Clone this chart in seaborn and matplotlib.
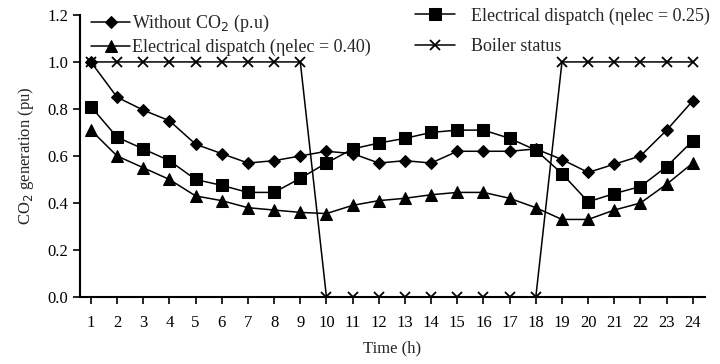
import numpy as np
import pandas as pd
import matplotlib
matplotlib.use("Agg")
import matplotlib.pyplot as plt
import seaborn as sns

hours = list(range(1, 25))
without_co2 = [1.0, 0.85, 0.795, 0.75, 0.65, 0.61, 0.57, 0.58, 0.60, 0.62, 0.61, 0.57,
               0.58, 0.57, 0.62, 0.62, 0.62, 0.63, 0.585, 0.53, 0.565, 0.60, 0.71, 0.835]
elec_025 = [0.81, 0.68, 0.63, 0.58, 0.50, 0.475, 0.445, 0.445, 0.505, 0.57, 0.63, 0.655,
            0.675, 0.70, 0.71, 0.71, 0.675, 0.625, 0.525, 0.405, 0.44, 0.47, 0.555, 0.665]
elec_040 = [0.71, 0.60, 0.55, 0.50, 0.43, 0.41, 0.38, 0.37, 0.36, 0.355, 0.39, 0.41,
            0.42, 0.435, 0.445, 0.445, 0.42, 0.38, 0.33, 0.33, 0.37, 0.40, 0.48, 0.57]
boiler = [1] * 9 + [0] * 9 + [1] * 6

sns.set_style("ticks")
plt.rcParams['font.family'] = ['Liberation Serif', 'DejaVu Serif']

fig, ax = plt.subplots(figsize=(7.2, 3.64), dpi=100)
fig.subplots_adjust(left=0.111, right=0.979, bottom=0.184, top=0.959)

kw = dict(color="black", linewidth=1.1, markeredgecolor="black", ax=ax)
sns.lineplot(x=hours, y=without_co2, marker="D", markersize=6, label="Without CO$_2$ (p.u)", **kw)
sns.lineplot(x=hours, y=elec_040, marker="^", markersize=8, label="Electrical dispatch (ηelec = 0.40)", **kw)
sns.lineplot(x=hours, y=elec_025, marker="s", markersize=8, label="Electrical dispatch (ηelec = 0.25)", **kw)
sns.lineplot(x=hours, y=boiler, marker="x", markersize=7, markeredgewidth=1.3, label="Boiler status", **kw)

handles, labels = ax.get_legend_handles_labels()
leg1 = ax.legend(handles[:2], labels[:2], loc="upper left", bbox_to_anchor=(0.0, 1.045),
                 frameon=False, fontsize=13, handlelength=2.2, handletextpad=0.1,
                 borderaxespad=0.2, labelspacing=0.25)
ax.add_artist(leg1)
ax.legend(handles[2:], labels[2:], loc="upper right", bbox_to_anchor=(1.025, 1.065),
          frameon=False, fontsize=13, handlelength=2.2, handletextpad=0.9,
          borderaxespad=0.2, labelspacing=0.75)

ax.set_xlim(0.58, 24.46)
ax.set_ylim(0, 1.2)
ax.set_xticks(hours)
ax.set_xticklabels([str(h) for h in hours])
ax.set_yticks(np.arange(0, 1.21, 0.2))
ax.set_yticklabels([f"{v:.1f}" for v in np.arange(0, 1.21, 0.2)])
ax.tick_params(axis="both", labelsize=12, direction="out", length=5, width=1.2, colors="black")
ax.tick_params(axis="x", pad=8)
ax.set_xlabel("Time (h)", fontsize=12, labelpad=7)
ax.set_ylabel("CO$_2$ generation (pu)", fontsize=12, labelpad=8)
for s in ["top", "right"]:
    ax.spines[s].set_visible(False)
for s in ["left", "bottom"]:
    ax.spines[s].set_linewidth(1.5)
    ax.spines[s].set_color("black")

fig.savefig("out.png", dpi=100)
